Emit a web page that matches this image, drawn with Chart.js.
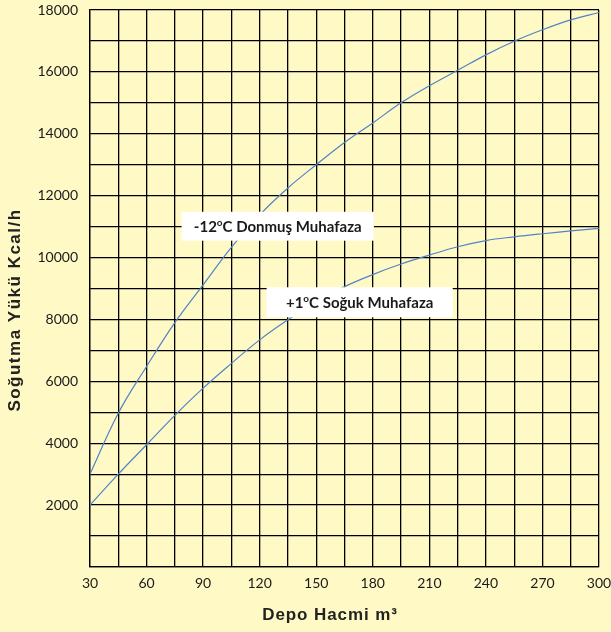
<!DOCTYPE html>
<html><head><meta charset="utf-8">
<script src="https://cdn.jsdelivr.net/npm/chart.js@4"></script>
<style>html,body{margin:0;padding:0;background:#FFF9C5;} #wrap{width:611px;height:632px;position:relative;}</style>
</head><body><div id="wrap"><canvas id="c" width="611" height="632"></canvas></div>
<script>
const volumes = [30,45,60,75,90,105,120,135,150,165,180,195,210,225,240,255,270,285,300];
const frozenLoad = [3000,4970,6480,7900,9120,10330,11380,12250,13000,13720,14350,15000,15550,16050,16550,16990,17360,17680,17920];
const chilledLoad = [2000,3000,3950,4900,5780,6580,7340,7990,8580,9060,9450,9790,10080,10350,10550,10670,10770,10860,10940];
const xTickLabels = [30,60,90,120,150,180,210,240,270,300];
const yTickLabels = [2000,4000,6000,8000,10000,12000,14000,16000,18000];
const seriesNames = ['-12ºC Donmuş Muhafaza','+1ºC Soğuk Muhafaza'];

const BG = '#FFF9C5';
const LINE = '#4F84C9';

const overlay = {
  id: 'overlay',
  beforeDraw(chart) {
    const ctx = chart.ctx;
    ctx.save();
    ctx.fillStyle = BG;
    ctx.fillRect(0, 0, chart.width, chart.height);
    ctx.restore();
  },
  afterDraw(chart) {
    const ctx = chart.ctx;
    const xs = chart.scales.x, ys = chart.scales.y;
    function label(x0, x1, y0, y1, pre, post) {
      const L = xs.getPixelForValue(x0), R = xs.getPixelForValue(x1);
      const T = ys.getPixelForValue(y0), B = ys.getPixelForValue(y1);
      ctx.save();
      ctx.fillStyle = '#FFFFFF';
      ctx.fillRect(L, T, R - L, B - T);
      const main = 'bold 15px Lato';
      const sup = 'bold 10px Lato';
      ctx.font = main; const w1 = ctx.measureText(pre).width; const w3 = ctx.measureText(post).width;
      ctx.font = sup; const w2 = ctx.measureText('o').width;
      let cx = (L + R) / 2 - (w1 + w2 + w3) / 2;
      const cy = (T + B) / 2;
      ctx.fillStyle = '#1a1a1a';
      ctx.textBaseline = 'middle';
      ctx.textAlign = 'left';
      ctx.font = main; ctx.fillText(pre, cx, cy + 1); cx += w1;
      ctx.font = sup; ctx.fillText('o', cx, cy - 3); cx += w2;
      ctx.font = main; ctx.fillText(post, cx, cy + 1);
      ctx.restore();
    }
    label(78.6, 180.6, 11480, 10545, '-12', 'C Donmuş Muhafaza');
    label(123.7, 222.4, 9040, 8070, '+1', 'C Soğuk Muhafaza');

    ctx.save();
    ctx.fillStyle = '#222';
    ctx.font = 'bold 17px "Liberation Sans", Arial';
    ctx.textAlign = 'center';
    ctx.textBaseline = 'middle';
    ctx.letterSpacing = '0.9px';
    ctx.fillText('Depo Hacmi m³', 330, 615);
    ctx.letterSpacing = '1.5px';
    ctx.translate(15, 310);
    ctx.rotate(-Math.PI / 2);
    ctx.fillText('Soğutma Yükü Kcal/h', 0, 0);
    ctx.restore();
  }
};

new Chart(document.getElementById('c'), {
  type: 'line',
  data: {
    datasets: [
      { label: seriesNames[0], data: volumes.map((v, i) => ({x: v, y: frozenLoad[i]})), borderColor: LINE, borderWidth: 1.2, pointRadius: 0, tension: 0.4, fill: false },
      { label: seriesNames[1], data: volumes.map((v, i) => ({x: v, y: chilledLoad[i]})), borderColor: LINE, borderWidth: 1.2, pointRadius: 0, tension: 0.4, fill: false }
    ]
  },
  options: {
    responsive: false,
    animation: false,
    devicePixelRatio: 1,
    layout: { padding: { left: 0, top: 10, right: 12, bottom: 0 } },
    plugins: { legend: { display: false }, tooltip: { enabled: false } },
    scales: {
      x: {
        type: 'linear', min: 30, max: 300,
        afterFit(s) { s.height = 65; s.paddingLeft = 0; s.paddingRight = 0; },
        ticks: { stepSize: 15, autoSkip: false, maxRotation: 0, padding: 8, color: '#1a1a1a', font: { family: 'Lato', size: 14 },
          callback: v => xTickLabels.includes(v) ? String(v) : '' },
        grid: { color: '#000', lineWidth: 1.3, drawTicks: false },
        border: { color: '#000', width: 1.3 }
      },
      y: {
        min: 0, max: 18000,
        afterFit(s) { s.width = 90; s.paddingTop = 0; s.paddingBottom = 0; },
        ticks: { stepSize: 1000, autoSkip: false, padding: 12, color: '#1a1a1a', font: { family: 'Lato', size: 14 },
          callback: v => yTickLabels.includes(v) ? String(v) : '' },
        grid: { color: '#000', lineWidth: 1.3, drawTicks: false },
        border: { color: '#000', width: 1.3 }
      }
    }
  },
  plugins: [overlay]
});
</script>
</body></html>
